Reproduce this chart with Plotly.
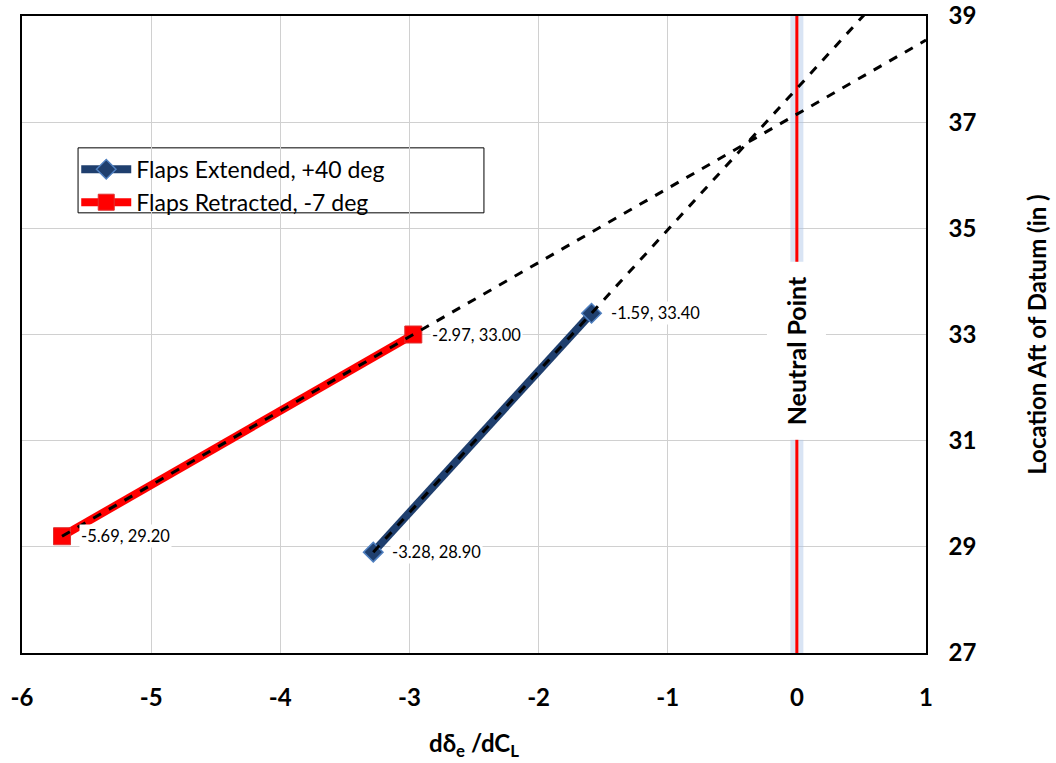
import numpy as np
import plotly.graph_objects as go

# Data
ext_x = [-3.28, -1.59]
ext_y = [28.90, 33.40]
ret_x = [-5.69, -2.97]
ret_y = [29.20, 33.00]
ext_name = "Flaps Extended, +40 deg"
ret_name = "Flaps Retracted, -7 deg"
neutral_x = 0
x_range = [-6, 1]
y_range = [27, 39]
x_ticks = [-6, -5, -4, -3, -2, -1, 0, 1]
y_ticks = [27, 29, 31, 33, 35, 37, 39]

FONT = "Lato, Open Sans, sans-serif"

fig = go.Figure()

# Neutral point line (glow + red core)
fig.add_trace(go.Scatter(x=[neutral_x, neutral_x], y=y_range, mode="lines",
                         line=dict(color="rgba(170,195,230,0.45)", width=13),
                         showlegend=False, hoverinfo="skip"))
fig.add_trace(go.Scatter(x=[neutral_x, neutral_x], y=y_range, mode="lines",
                         line=dict(color="#ff0000", width=3),
                         showlegend=False, hoverinfo="skip"))

# Series
fig.add_trace(go.Scatter(x=ext_x, y=ext_y, mode="lines+markers", name=ext_name,
                         line=dict(color="#1f3f6e", width=8),
                         marker=dict(symbol="diamond", size=15, color="#1f3f6e",
                                     line=dict(color="#4f7fbf", width=1.5))))
fig.add_trace(go.Scatter(x=ret_x, y=ret_y, mode="lines+markers", name=ret_name,
                         line=dict(color="#ff0000", width=8),
                         marker=dict(symbol="square", size=17, color="#ff0000",
                                     line=dict(color="#e03030", width=1))))

# Linear trendlines, extended forward to the axis end
for xs, ys in [(ext_x, ext_y), (ret_x, ret_y)]:
    m, b = np.polyfit(xs, ys, 1)
    tx = np.array([min(xs), x_range[1]])
    fig.add_trace(go.Scatter(x=tx, y=m * tx + b, mode="lines",
                             line=dict(color="black", width=3, dash="dash"),
                             showlegend=False, hoverinfo="skip"))

# Data labels
for xs, ys in [(ext_x, ext_y), (ret_x, ret_y)]:
    for xv, yv in zip(xs, ys):
        fig.add_annotation(x=xv, y=yv, text=f"{xv:.2f}, {yv:.2f}",
                           showarrow=False, xanchor="left", yanchor="middle",
                           xshift=17, bgcolor="white",
                           font=dict(family=FONT, size=16.5, color="black"))

fig.add_annotation(x=neutral_x, y=32.7, text="<b>Neutral Point</b>", textangle=-90,
                   showarrow=False, bgcolor="white", borderpad=14,
                   font=dict(family=FONT, size=25, color="black"))

# legend frame (Excel-style wide box)
fig.add_shape(type="rect", xref="paper", yref="paper",
              x0=0.062, x1=0.511, y0=0.691, y1=0.793,
              line=dict(color="black", width=1), fillcolor="white", layer="below")

fig.update_layout(
    width=1056, height=763,
    margin=dict(l=22, r=130, t=16, b=110),
    paper_bgcolor="white", plot_bgcolor="rgba(0,0,0,0)",
    font=dict(family=FONT, color="black"),
    legend=dict(x=0.06, y=0.793, xanchor="left", yanchor="top",
                bgcolor="rgba(0,0,0,0)", borderwidth=0,
                font=dict(family=FONT, size=23, color="black"),
                itemwidth=50, tracegroupgap=0),
    xaxis=dict(range=x_range, tickvals=x_ticks,
               ticktext=[f"<b>{v}</b>" for v in x_ticks],
               showgrid=True, gridcolor="#d0d0d0", gridwidth=1, automargin=False,
               zeroline=False, showline=True, linecolor="black", linewidth=2, mirror=True,
               ticks="outside", ticklen=22, tickcolor="rgba(0,0,0,0)",
               tickfont=dict(family=FONT, size=24, color="black"),
               title=dict(text="<b>dδ<sub>e</sub> /dC<sub>L</sub></b>",
                          font=dict(family=FONT, size=24, color="black"), standoff=25)),
    yaxis=dict(range=y_range, tickvals=y_ticks,
               ticktext=[f"<b>{v}</b>" for v in y_ticks],
               side="right", showgrid=True, automargin=False,
               gridcolor="#d0d0d0", gridwidth=1, zeroline=False, showline=True,
               linecolor="black", linewidth=1.5, mirror=True,
               ticks="outside", ticklen=16, tickcolor="rgba(0,0,0,0)",
               tickfont=dict(family=FONT, size=24, color="black"),
               title=dict(text="<b>Location Aft of Datum (in )</b>",
                          font=dict(family=FONT, size=24, color="black"), standoff=54)),
)

fig.write_html("out.html", config={"displayModeBar": False},
               post_script="document.body.style.margin='0px';")
